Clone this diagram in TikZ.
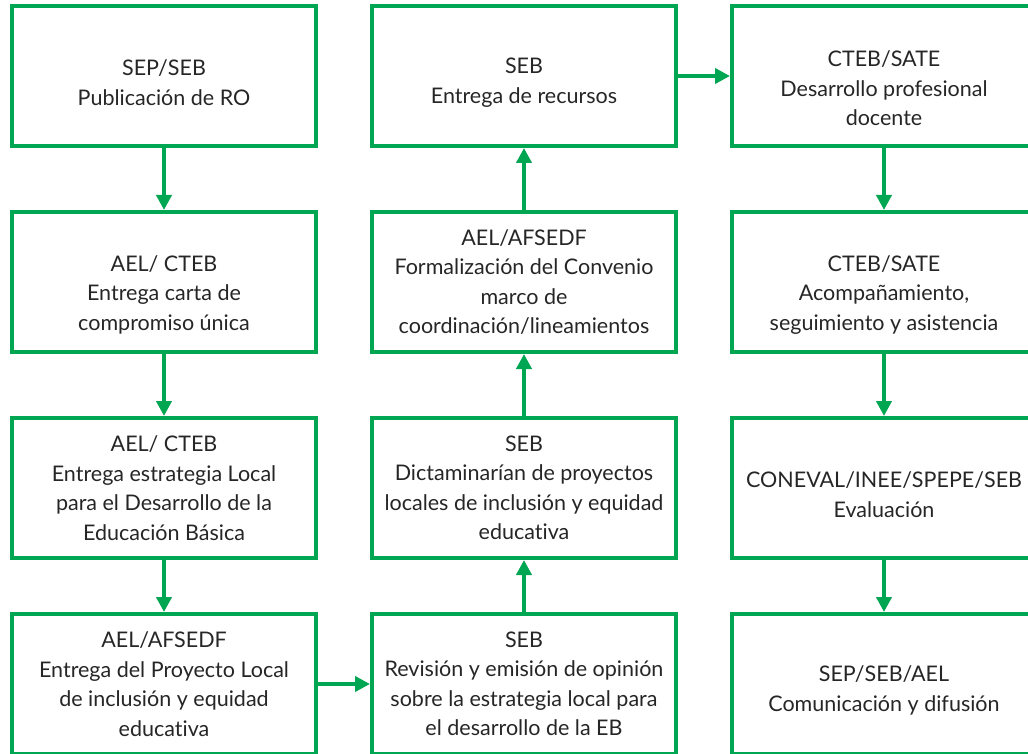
\documentclass[tikz,border=0pt]{standalone}
\usepackage{fontspec}
\setmainfont{Lato}[Ligatures=NoCommon]
\usetikzlibrary{arrows.meta,positioning}
\definecolor{sepgreen}{RGB}{0,166,81}
% extra room above the first line of a box
\newcommand{\toppad}[1]{\rule{0pt}{#1}}

\begin{document}
\begin{tikzpicture}[
    x=0.5pt, y=-0.5pt,
    node distance=31pt and 26pt,
    box/.style={rectangle, draw=sepgreen, line width=2pt, minimum width=152pt,
                minimum height=70pt, align=center, inner sep=2pt,
                font=\fontsize{10.75}{14.75}\selectfont, text=black!85},
    arrow/.style={-{Triangle[length=7.5pt, width=7.5pt]}, draw=sepgreen, line width=2pt}
]
\useasboundingbox (0,0) rectangle (1028,754);
\clip (0,0) rectangle (1028,754);

% Column 1: from RO to the local project
\node[box] (ro) at (164,76) {\toppad{14.5pt}SEP/SEB\\Publicación de RO};
\node[box, below=of ro] (carta) {\toppad{20.5pt}AEL/ CTEB\\Entrega carta de\\compromiso única};
\node[box, below=of carta] (estrategia) {AEL/ CTEB\\Entrega estrategia Local\\para el Desarrollo de la\\Educación Básica};
\node[box, below=26pt of estrategia] (proyecto) {AEL/AFSEDF\\Entrega del Proyecto Local\\de inclusión y equidad\\educativa};

% Column 2: review up to resources
\node[box, right=of proyecto] (revision) {SEB\\Revisión y emisión de opinión\\sobre la estrategia local para\\el desarrollo de la EB};
\node[box, right=of estrategia] (dictamen) {SEB\\Dictaminarían de proyectos\\locales de inclusión y equidad\\educativa};
\node[box, right=of carta] (convenio) {AEL/AFSEDF\\Formalización del Convenio\\marco de\\coordinación/lineamientos};
\node[box, right=of ro] (recursos) {\toppad{14.5pt}SEB\\Entrega de recursos};

% Column 3: teacher development to communication
\node[box, right=of recursos] (desarrollo) {\toppad{20.5pt}CTEB/SATE\\Desarrollo profesional\\docente};
\node[box, right=of convenio] (acomp) {\toppad{20.5pt}CTEB/SATE\\Acompañamiento,\\seguimiento y asistencia};
\node[box, right=of dictamen] (evaluacion) {\toppad{14.5pt}CONEVAL/INEE/SPEPE/SEB\\Evaluación};
\node[box, right=of revision] (difusion) {\toppad{14.5pt}SEP/SEB/AEL\\Comunicación y difusión};

% Arrows
\draw[arrow] (ro) -- (carta);
\draw[arrow] (carta) -- (estrategia);
\draw[arrow] (estrategia) -- (proyecto);
\draw[arrow] (proyecto) -- (revision);
\draw[arrow] (revision) -- (dictamen);
\draw[arrow] (dictamen) -- (convenio);
\draw[arrow] (convenio) -- (recursos);
\draw[arrow] (recursos) -- (desarrollo);
\draw[arrow] (desarrollo) -- (acomp);
\draw[arrow] (acomp) -- (evaluacion);
\draw[arrow] (evaluacion) -- (difusion);

\end{tikzpicture}
\end{document}
